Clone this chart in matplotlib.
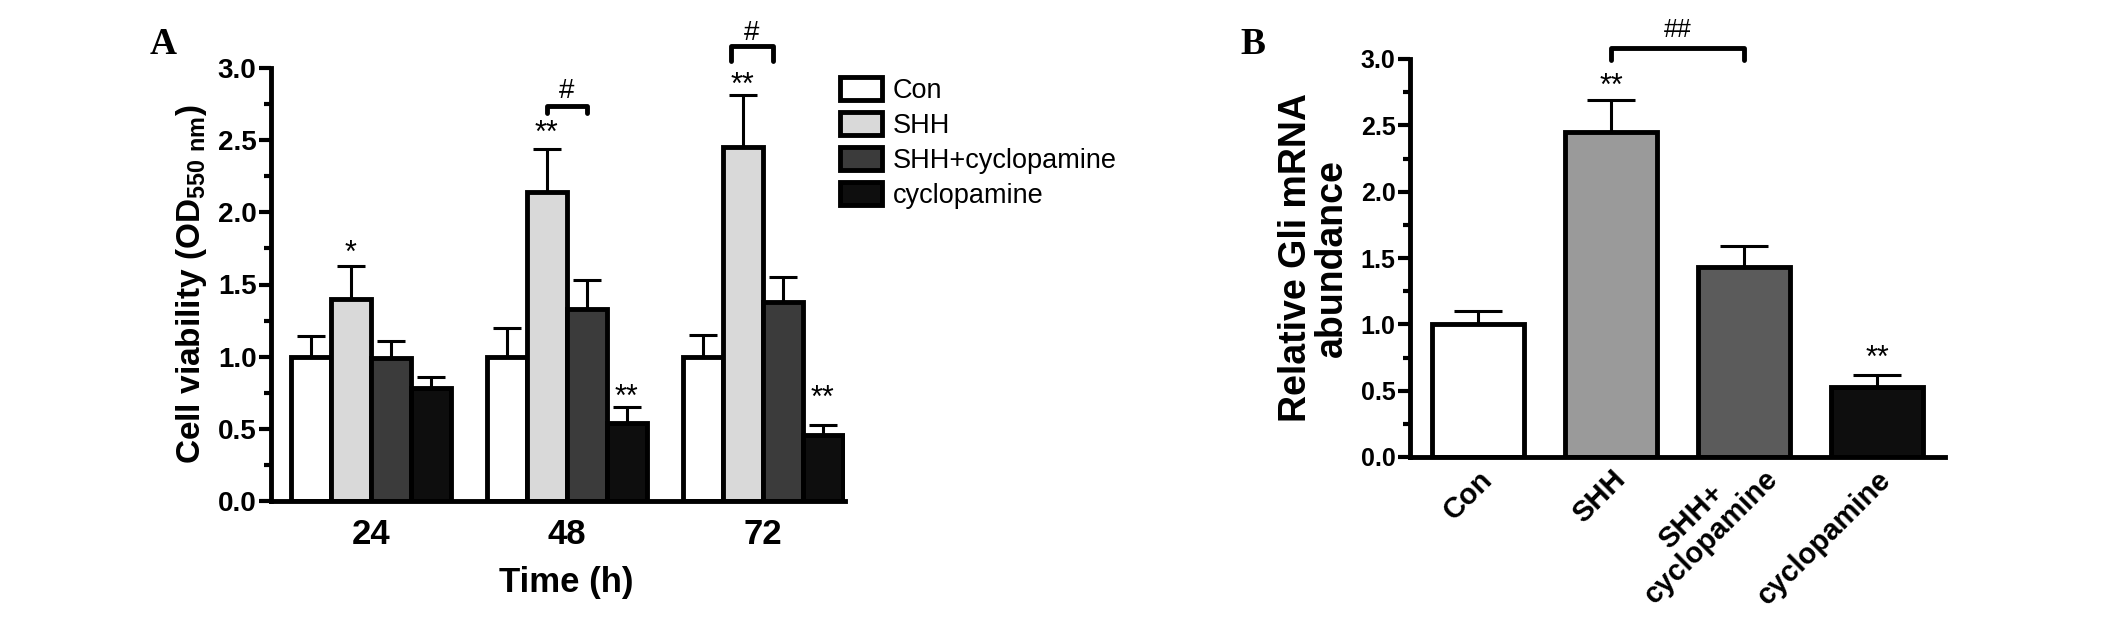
import matplotlib
matplotlib.use('Agg')
import matplotlib.pyplot as plt
import matplotlib.transforms as mtransforms
import numpy as np
from matplotlib.ticker import MultipleLocator, FormatStrFormatter

plt.rcParams['font.family'] = ['Liberation Sans', 'DejaVu Sans']
plt.rcParams['mathtext.fontset'] = 'custom'
plt.rcParams['mathtext.bf'] = 'Liberation Sans:bold'
plt.rcParams['mathtext.rm'] = 'Liberation Sans:bold'

# ---------------------------------------------------------------
# Panel A data: cell viability (OD550) at 24/48/72 h
# ---------------------------------------------------------------
times = ['24', '48', '72']
groups = ['Con', 'SHH', 'SHH+cyclopamine', 'cyclopamine']

con_a = [1.00, 1.00, 1.00]
shh_a = [1.40, 2.14, 2.45]
shhcyc_a = [0.99, 1.33, 1.38]
cyc_a = [0.78, 0.54, 0.46]

con_a_err = [0.14, 0.20, 0.15]
shh_a_err = [0.23, 0.30, 0.36]
shhcyc_a_err = [0.12, 0.20, 0.17]
cyc_a_err = [0.08, 0.11, 0.07]

# (time index, group index, label height, text)
stars_a = [(0, 1, 1.78, '*'), (1, 1, 2.61, '**'), (1, 3, 0.78, '**'),
           (2, 1, 2.94, '**'), (2, 3, 0.77, '**')]
# (time index, bracket height, tick bottom, '#' height)
hash_a = [(1, 2.74, 2.69, 2.86), (2, 3.15, 3.05, 3.26)]

# ---------------------------------------------------------------
# Panel B data: relative Gli mRNA abundance
# ---------------------------------------------------------------
cats_b = ['Con', 'SHH', 'SHH+\ncyclopamine', 'cyclopamine']
gli_b = [1.00, 2.45, 1.43, 0.53]
gli_b_err = [0.10, 0.24, 0.16, 0.09]
stars_b = [(1, 2.86, '**'), (3, 0.81, '**')]
hash_b = (1, 2, 3.08, 2.99, 3.23)

colors_a = ['white', '#d9d9d9', '#3b3b3b', '#0e0e0e']
colors_b = ['white', '#9a9a9a', '#5b5b5b', '#0e0e0e']


def mark(ax, x, yc, s, fs):
    # place glyph so that its visual centre sits at yc
    off = -0.57 * fs if s.startswith('*') else -0.36 * fs
    ax.annotate(s, xy=(x, yc), xytext=(0, off), textcoords='offset points',
                ha='center', va='baseline', fontsize=fs, annotation_clip=False)


def bracket(ax, x0, x1, y, ybot):
    ax.plot([x0, x0, x1, x1], [ybot, y, y, ybot], color='black', lw=3.5,
            solid_capstyle='round', solid_joinstyle='round', clip_on=False)


def style_axis(ax, labelsize):
    for side in ['top', 'right']:
        ax.spines[side].set_visible(False)
    for side in ['left', 'bottom']:
        ax.spines[side].set_linewidth(3.5)
    ax.set_ylim(0, 3.0)
    ax.yaxis.set_major_locator(MultipleLocator(0.5))
    ax.yaxis.set_minor_locator(MultipleLocator(0.25))
    ax.yaxis.set_major_formatter(FormatStrFormatter('%.1f'))
    ax.tick_params(axis='y', which='major', length=9, width=3, pad=1.5,
                   labelsize=labelsize)
    ax.tick_params(axis='y', which='minor', length=5, width=3)
    ax.tick_params(axis='x', length=0)
    plt.setp(ax.get_yticklabels(), fontweight='bold')


fig = plt.figure(figsize=(21.26, 6.17), dpi=100)

# ---------------------------------------------------------------
# Panel A
# ---------------------------------------------------------------
axA = fig.add_axes([271 / 2126, 116 / 617, 574 / 2126, 433 / 617])
w = 0.204
xg = np.arange(len(times))
means_a = [con_a, shh_a, shhcyc_a, cyc_a]
errs_a = [con_a_err, shh_a_err, shhcyc_a_err, cyc_a_err]
offsets = (np.arange(4) - 1.5) * w

for i, g in enumerate(groups):
    xs = xg + offsets[i]
    axA.bar(xs, means_a[i], width=w, color=colors_a[i], edgecolor='black',
            linewidth=3.5, label=g, zorder=2)
    axA.errorbar(xs, means_a[i], yerr=[np.zeros(3), errs_a[i]], fmt='none',
                 ecolor='black', elinewidth=2.2, capsize=10, capthick=2.2,
                 zorder=1)

for t, gi, yc, s in stars_a:
    mark(axA, xg[t] + offsets[gi], yc, s, 22)

for n, (t, y, ybot, yh) in enumerate(hash_a):
    x0 = xg[t] + offsets[1]
    x1 = xg[t] + offsets[2]
    if n == 1:
        x0 -= 0.3 * w
        x1 -= 0.25 * w
    bracket(axA, x0, x1, y, ybot)
    mark(axA, (x0 + x1) / 2, yh, '#', 20)

axA.set_xlim(-0.51, 2.42)
axA.set_xticks(xg)
axA.set_xticklabels(times, fontsize=25, fontweight='bold')
axA.tick_params(axis='x', pad=12)
style_axis(axA, 20)
axA.set_ylabel('Cell viability (OD$_{\\mathbf{550\\ nm}}$)', fontsize=24,
               fontweight='bold')
axA.yaxis.set_label_coords(-0.108, 0.5)
axA.set_xlabel('Time (h)', fontsize=25, fontweight='bold')
axA.xaxis.set_label_coords(0.515, -0.15)

axA.legend(loc='upper left', bbox_to_anchor=(840 / 2126, 1 - 77 / 617),
           bbox_transform=fig.transFigure, frameon=False, fontsize=19.5,
           handlelength=1.55, handleheight=0.93, handletextpad=0.4,
           labelspacing=0.3, borderpad=0, borderaxespad=0)

# ---------------------------------------------------------------
# Panel B
# ---------------------------------------------------------------
axB = fig.add_axes([1410 / 2126, 160 / 617, 535 / 2126, 398 / 617])
xb = np.arange(len(cats_b))
wb = 0.69
axB.bar(xb, gli_b, width=wb, color=colors_b, edgecolor='black',
        linewidth=3.5, zorder=2)
axB.errorbar(xb, gli_b, yerr=[np.zeros(4), gli_b_err], fmt='none',
             ecolor='black', elinewidth=2.2, capsize=17, capthick=2.2, zorder=1)

for i, yc, s in stars_b:
    mark(axB, xb[i], yc, s, 22)

bi0, bi1, by, bybot, byh = hash_b
bracket(axB, xb[bi0], xb[bi1], by, bybot)
mark(axB, (xb[bi0] + xb[bi1]) / 2, byh, '##', 18)

axB.set_xlim(-0.51, 3.51)
axB.set_xticks(xb)
axB.set_xticklabels([])
style_axis(axB, 18)

# rotated category labels, drawn as texts so the two-line one can sit higher
for i, lab in enumerate(cats_b):
    dy = 9 if '\n' in lab else -6
    tr = axB.get_xaxis_transform() + mtransforms.ScaledTranslation(
        0, dy / 72, fig.dpi_scale_trans)
    axB.text(xb[i], 0, lab, transform=tr, rotation=45, ha='right', va='top',
             rotation_mode='anchor', multialignment='center', fontsize=21,
             fontweight='bold', linespacing=1.0)

axB.set_ylabel('Relative Gli mRNA\nabundance', fontsize=27, fontweight='bold',
               linespacing=1.0)
axB.yaxis.set_label_coords(-0.112, 0.5)

# panel letters
fig.text(150 / 2126, 1 - 45 / 617, 'A', family='Liberation Serif',
         fontweight='bold', fontsize=27, ha='left', va='center')
fig.text(1240 / 2126, 1 - 44 / 617, 'B', family='Liberation Serif',
         fontweight='bold', fontsize=27, ha='left', va='center')

fig.savefig('out.png', dpi=100)
